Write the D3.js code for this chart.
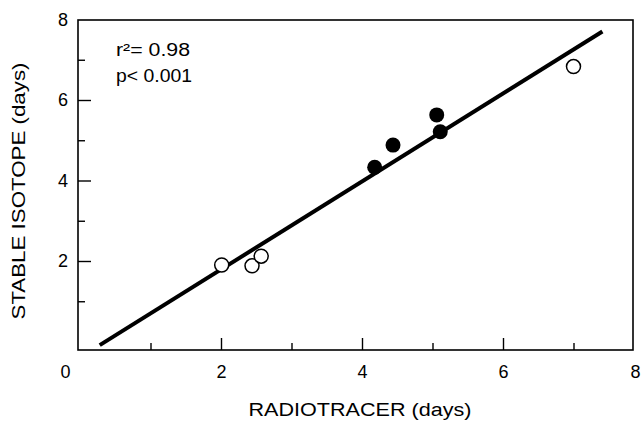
<!DOCTYPE html>
<html>
<head>
<meta charset="utf-8">
<script src="https://cdn.jsdelivr.net/npm/d3@7"></script>
<style>
  body { margin: 0; background: #fff; }
  svg { display: block; font-family: "Liberation Sans", Arial, sans-serif; }
</style>
</head>
<body>
<svg id="chart"></svg>
<script>
// values
const openX = [2.01, 2.44, 2.57, 7.00];
const openY = [1.90, 1.88, 2.12, 6.83];
const filledX = [4.18, 4.44, 5.06, 5.11];
const filledY = [4.33, 4.88, 5.63, 5.21];
const fitSlope = 1.093, fitIntercept = -0.396;
const fitRange = [0.28, 7.41];
const majorTicks = [0, 2, 4, 6, 8];
const minorTicks = [1, 3, 5, 7];
const statLines = ["r²= 0.98", "p< 0.001"];

const W = 641, H = 426;
const svg = d3.select("#chart").attr("width", W).attr("height", H);

const x = d3.scaleLinear().domain([0, 8]).range([80, 644]);
const y = d3.scaleLinear().domain([0, 8]).range([341.5, 19.5]);

const frame = { left: 78, right: 633, top: 20, bottom: 350 };

// frame
svg.append("rect")
  .attr("x", frame.left).attr("y", frame.top)
  .attr("width", frame.right - frame.left)
  .attr("height", frame.bottom - frame.top)
  .attr("fill", "none").attr("stroke", "#000").attr("stroke-width", 1.6);

// x axis (ticks point inward)
const xAxis = svg.append("g")
  .attr("transform", `translate(0,${frame.bottom})`)
  .call(d3.axisTop(x).tickValues([2, 4, 6]).tickSize(12).tickFormat(""));
xAxis.select(".domain").remove();
xAxis.selectAll("line").attr("stroke-width", 1.4);

const xMinor = svg.append("g")
  .attr("transform", `translate(0,${frame.bottom})`)
  .call(d3.axisTop(x).tickValues(minorTicks).tickSize(7).tickFormat(""));
xMinor.select(".domain").remove();
xMinor.selectAll("line").attr("stroke-width", 1.4);

const xLabels = svg.append("g")
  .attr("transform", `translate(0,${frame.bottom})`)
  .call(d3.axisBottom(x).tickValues(majorTicks).tickSize(0).tickPadding(15));
xLabels.select(".domain").remove();
xLabels.selectAll("text")
  .attr("font-size", 18).attr("fill", "#000")
  .attr("font-family", "Liberation Sans, Arial, sans-serif")
  .attr("dx", d => d === 0 ? -15 : d === 8 ? -9 : 0);

// y axis
const yAxis = svg.append("g")
  .attr("transform", `translate(${frame.left},0)`)
  .call(d3.axisRight(y).tickValues([2, 4, 6]).tickSize(13).tickFormat(""));
yAxis.select(".domain").remove();
yAxis.selectAll("line").attr("stroke-width", 1.4);

const yMinor = svg.append("g")
  .attr("transform", `translate(${frame.left},0)`)
  .call(d3.axisRight(y).tickValues(minorTicks).tickSize(7).tickFormat(""));
yMinor.select(".domain").remove();
yMinor.selectAll("line").attr("stroke-width", 1.4);

const yLabels = svg.append("g")
  .attr("transform", `translate(${frame.left},0)`)
  .call(d3.axisLeft(y).tickValues([2, 4, 6, 8]).tickSize(0).tickPadding(10));
yLabels.select(".domain").remove();
yLabels.selectAll("text")
  .attr("font-size", 18).attr("fill", "#000")
  .attr("font-family", "Liberation Sans, Arial, sans-serif");

// regression line
svg.append("line")
  .attr("x1", x(fitRange[0])).attr("y1", y(fitSlope * fitRange[0] + fitIntercept))
  .attr("x2", x(fitRange[1])).attr("y2", y(fitSlope * fitRange[1] + fitIntercept))
  .attr("stroke", "#000").attr("stroke-width", 4).attr("stroke-linecap", "butt");

// points
svg.append("g").selectAll("circle")
  .data(openX.map((v, i) => [v, openY[i]]))
  .join("circle")
  .attr("cx", d => x(d[0])).attr("cy", d => y(d[1]))
  .attr("r", 7)
  .attr("fill", "#fff").attr("stroke", "#000").attr("stroke-width", 1.5);

svg.append("g").selectAll("circle")
  .data(filledX.map((v, i) => [v, filledY[i]]))
  .join("circle")
  .attr("cx", d => x(d[0])).attr("cy", d => y(d[1]))
  .attr("r", 7.5)
  .attr("fill", "#000");

// stats text (the scan is a little wide, so stretch to match)
svg.append("g").selectAll("text")
  .data(statLines)
  .join("text")
  .attr("x", 116).attr("y", (d, i) => 56 + i * 26)
  .attr("font-size", 18).attr("fill", "#000")
  .attr("textLength", (d, i) => i === 0 ? 74 : 76)
  .attr("lengthAdjust", "spacingAndGlyphs")
  .text(d => d);

// axis titles
svg.append("text")
  .attr("x", 360).attr("y", 416)
  .attr("text-anchor", "middle").attr("font-size", 18).attr("fill", "#000")
  .attr("textLength", 223).attr("lengthAdjust", "spacingAndGlyphs")
  .text("RADIOTRACER (days)");

svg.append("text")
  .attr("transform", "translate(25,191) rotate(-90)")
  .attr("text-anchor", "middle").attr("font-size", 18).attr("fill", "#000")
  .attr("textLength", 257).attr("lengthAdjust", "spacingAndGlyphs")
  .text("STABLE ISOTOPE (days)");
</script>
</body>
</html>
